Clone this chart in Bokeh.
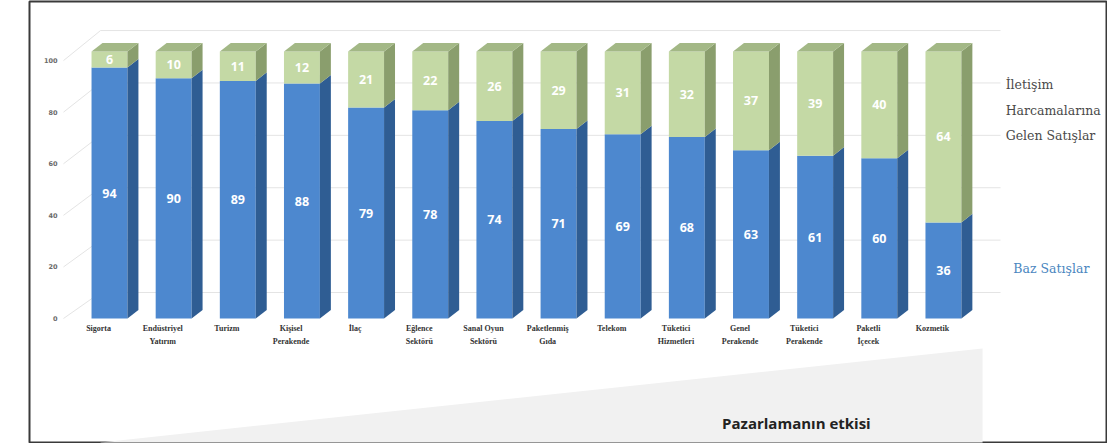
from bokeh.plotting import figure
from bokeh.models import Range1d
from bokeh.core.properties import value
from bokeh.embed import file_html
from bokeh.resources import INLINE

# ---------------- data ----------------
categories = ["Sigorta", "Endüstriyel\nYatırım", "Turizm", "Kişisel\nPerakende", "İlaç",
              "Eğlence\nSektörü", "Sanal Oyun\nSektörü", "Paketlenmiş\nGıda", "Telekom",
              "Tüketici\nHizmetleri", "Genel\nPerakende", "Tüketici\nPerakende",
              "Paketli\nİçecek", "Kozmetik"]
base_sales = [94, 90, 89, 88, 79, 78, 74, 71, 69, 68, 63, 61, 60, 36]
comm_sales = [6, 10, 11, 12, 21, 22, 26, 29, 31, 32, 37, 39, 40, 64]
y_ticks = [0, 20, 40, 60, 80, 100]
series_top = ["İletişim", "Harcamalarına", "Gelen Satışlar"]
series_base = "Baz Satışlar"
footer = "Pazarlamanın etkisi"

# ---------------- style ----------------
BLUE, BLUE_SIDE = "#4d88cf", "#2f5d93"
GREEN, GREEN_SIDE, GREEN_TOP = "#c4d9a5", "#8a9e6d", "#a3b886"
GRID = "#e4e4e4"
W, DX, DY = 0.56, 0.171, 3.2          # front width, depth offsets (3D look)

n = len(categories)
xs = list(range(n))
totals = [b + c for b, c in zip(base_sales, comm_sales)]

p = figure(width=1107, height=443, output_backend="svg", toolbar_location=None,
           x_range=Range1d(-1.247, 15.542), y_range=Range1d(-46.44, 118.73),
           x_axis_location=None, y_axis_location=None,
           min_border_left=29, min_border_right=1, min_border_top=1, min_border_bottom=1)
p.xgrid.visible = False
p.ygrid.visible = False
p.outline_line_color = "#3a3a3a"
p.outline_line_width = 2
p.background_fill_color = "white"
p.border_fill_color = "white"

# bottom wedge ("impact of marketing")
p.patch(x=[-0.14, 13.61, 13.61, -0.14], y=[-46.4, -11.2, -50, -50],
        fill_color="#f1f1f1", line_color=None)
p.text(x=[9.55], y=[-39.3], text=[footer], text_font=value("Open Sans"),
       text_font_style="bold", text_font_size="15px", text_color="#222222",
       text_baseline="middle", text_align="left")

# perspective gridlines (front label -> back wall -> right)
fy = [v * 0.966 for v in y_ticks]
by = [9.74 + 0.981 * v for v in y_ticks]
p.segment(x0=[-0.717] * len(y_ticks), y0=fy, x1=[-0.14] * len(y_ticks), y1=by,
          line_color=GRID, line_width=1)
p.segment(x0=[-0.14] * len(y_ticks), y0=by, x1=[13.89] * len(y_ticks), y1=by,
          line_color=GRID, line_width=1)

# y tick labels
p.text(x=[-0.81] * len(y_ticks), y=fy, text=[str(v) for v in y_ticks],
       text_font=value("DejaVu Sans"), text_font_style="bold", text_font_size="6.5px",
       text_color="#6a6a6a", text_align="right", text_baseline="middle")

# bars: front faces
p.vbar(x=xs, width=W, bottom=0, top=base_sales, fill_color=BLUE, line_color=None)
p.vbar(x=xs, width=W, bottom=base_sales, top=totals, fill_color=GREEN, line_color=None)

# side faces and top faces
xr = [x + W / 2 for x in xs]
xl = [x - W / 2 for x in xs]
p.patches(xs=[[a, a + DX, a + DX, a] for a in xr],
          ys=[[0, DY, b + DY, b] for b in base_sales],
          fill_color=BLUE_SIDE, line_color=None)
p.patches(xs=[[a, a + DX, a + DX, a] for a in xr],
          ys=[[b, b + DY, t + DY, t] for b, t in zip(base_sales, totals)],
          fill_color=GREEN_SIDE, line_color=None)
p.patches(xs=[[l, r, r + DX, l + DX] for l, r in zip(xl, xr)],
          ys=[[t, t, t + DY, t + DY] for t in totals],
          fill_color=GREEN_TOP, line_color=None)

# value labels
p.text(x=xs, y=[b / 2 for b in base_sales], text=[str(b) for b in base_sales],
       text_font=value("Open Sans"), text_font_style="bold", text_font_size="12.5px",
       text_color="white", text_align="center", text_baseline="middle")
p.text(x=xs, y=[b + c / 2 for b, c in zip(base_sales, comm_sales)],
       text=[str(c) for c in comm_sales],
       text_font=value("Open Sans"), text_font_style="bold", text_font_size="12.5px",
       text_color="white", text_align="center", text_baseline="middle")

# category labels
p.text(x=[x - 0.17 for x in xs], y=[-2.0] * n, text=categories,
       text_font=value("Liberation Serif"), text_font_style="bold", text_font_size="8px",
       text_color="#333333", text_align="center", text_baseline="top",
       text_line_height=1.45)

# series labels on the right
p.text(x=[13.97] * 3, y=[87.6, 77.9, 68.5], text=series_top,
       text_font=value("DejaVu Serif"), text_font_size="12.5px",
       text_color="#4a4a4a", text_align="left", text_baseline="middle")
p.text(x=[14.09], y=[18.7], text=[series_base],
       text_font=value("DejaVu Serif"), text_font_size="12.5px",
       text_color="#4a86c0", text_align="left", text_baseline="middle")

open("out.html", "w").write(file_html(p, INLINE))
